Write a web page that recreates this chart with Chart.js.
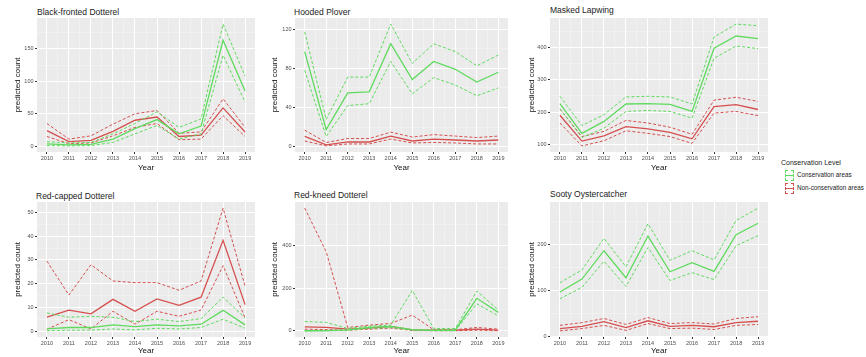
<!DOCTYPE html>
<html>
<head>
<meta charset="utf-8">
<script src="https://cdn.jsdelivr.net/npm/chart.js@4.4.1/dist/chart.umd.min.js"></script>
<style>
  body { margin: 0; background: #fff; width: 866px; height: 357px; position: relative; overflow: hidden;
         font-family: "Liberation Sans", Arial, sans-serif; }
  canvas { position: absolute; }
  .ttl { position: absolute; font-size: 8.5px; color: #222; white-space: nowrap; line-height: 1; }
  .leg { position: absolute; font-size: 7px; color: #222; white-space: nowrap; line-height: 1; }
  .lt { position: absolute; font-size: 6.3px; color: #222; white-space: nowrap; line-height: 1; }
  .key { position: absolute; width: 7px; height: 9px; border: 1px dashed; }
  .key i { position: absolute; left: 0; right: 0; top: 4px; height: 1px; }
</style>
</head>
<body>

<div class="ttl" style="left:37px;top:8px">Black-fronted Dotterel</div>
<div class="ttl" style="left:294px;top:8px">Hooded Plover</div>
<div class="ttl" style="left:550px;top:6px">Masked Lapwing</div>
<div class="ttl" style="left:36px;top:192px">Red-capped Dotterel</div>
<div class="ttl" style="left:294px;top:191px">Red-kneed Dotterel</div>
<div class="ttl" style="left:550px;top:190px">Sooty Oystercatcher</div>

<canvas id="c1" width="244" height="173" style="left:13px;top:0px"></canvas>
<canvas id="c2" width="240" height="173" style="left:270px;top:0px"></canvas>
<canvas id="c3" width="243" height="173" style="left:527px;top:0px"></canvas>
<canvas id="c4" width="244" height="181" style="left:13px;top:175px"></canvas>
<canvas id="c5" width="240" height="181" style="left:270px;top:175px"></canvas>
<canvas id="c6" width="243" height="181" style="left:527px;top:175px"></canvas>

<div class="leg" style="left:781px;top:159px">Conservation Level</div>
<div class="key" style="left:785px;top:170px;border-color:#5EDB5E"><i style="background:#5EDB5E"></i></div>
<div class="lt" style="left:797px;top:172px">Conservation areas</div>
<div class="key" style="left:785px;top:183px;border-color:#D64F4F"><i style="background:#D64F4F"></i></div>
<div class="lt" style="left:797px;top:185px">Non-conservation areas</div>

<script>
var years = [2010, 2011, 2012, 2013, 2014, 2015, 2016, 2017, 2018, 2019];

// Black-fronted Dotterel
var bfdCons   = [3.6, 2, 3, 11, 27, 41, 19, 31, 163, 85];
var bfdConsLo = [1, 0.5, 1, 6, 19, 32, 11, 19, 140, 68];
var bfdConsHi = [7, 5, 6, 19, 35, 53, 29, 42, 188, 108];
var bfdNon    = [24, 7, 9, 23, 40, 45, 15, 17, 59, 22];
var bfdNonLo  = [15, 4, 5, 16, 29, 35, 10, 11, 47, 15];
var bfdNonHi  = [35, 11, 16, 34, 50, 55, 20, 22, 73, 29];
var bfdTicks  = [0, 50, 100, 150];

// Hooded Plover
var hpCons   = [97, 17.5, 55, 56, 105, 68.5, 87, 79, 66, 76];
var hpConsLo = [78, 10.6, 42, 44, 87, 54, 70.5, 63, 52, 60];
var hpConsHi = [117, 28, 71, 71, 125, 85, 105, 97, 82.5, 93.5];
var hpNon    = [10.6, 2, 5, 5, 11, 6, 8, 7, 6, 7];
var hpNonLo  = [6, 1, 3, 3, 8, 4, 4.5, 4, 3, 3];
var hpNonHi  = [17, 4.5, 8.5, 8.5, 15, 10, 12.5, 11, 9.5, 11];
var hpTicks  = [0, 40, 80, 120];

// Masked Lapwing
var mlCons   = [226, 134, 171, 225, 226, 224, 202, 398, 436, 428];
var mlConsLo = [210, 121, 150, 202, 205, 202, 181, 367, 405, 397];
var mlConsHi = [249, 158, 192, 247, 249, 247, 225, 433, 473, 468];
var mlNon    = [190, 110, 126, 155, 148, 137, 117, 217, 223, 208];
var mlNonLo  = [166, 95, 111, 142, 134, 124, 103, 197, 202, 189];
var mlNonHi  = [210, 124, 140, 174, 166, 153, 131, 237, 246, 233];
var mlTicks  = [100, 200, 300, 400];

// Red-capped Dotterel
var rcdCons   = [1.1, 1.7, 1.7, 2.8, 2.1, 2.8, 2.4, 3.1, 8.9, 2.8];
var rcdConsLo = [0.3, 0.6, 0.6, 1.1, 0.7, 1.4, 1.1, 1.7, 5.2, 1.4];
var rcdConsHi = [7.8, 6, 6.4, 6, 4.2, 5.2, 4.2, 5.4, 14.4, 5.7];
var rcdNon    = [6.1, 9, 7.4, 13.5, 8.5, 13.7, 11, 14.4, 38.2, 11.3];
var rcdNonLo  = [1, 5, 1.1, 8.5, 3.1, 8.5, 6.4, 9, 27.6, 5.7];
var rcdNonHi  = [29.5, 15.3, 28, 21.2, 20.5, 20.5, 17.3, 21.2, 51.7, 19];
var rcdTicks  = [0, 10, 20, 30, 40, 50];

// Red-kneed Dotterel
var rkdCons   = [0.5, 1.5, 5, 16, 21, 6, 3, 3, 153, 87];
var rkdConsLo = [0, 0.5, 3, 11, 16, 3, 1, 1, 127, 71];
var rkdConsHi = [44, 40, 11, 22, 27, 190, 11, 11, 187, 98];
var rkdNon    = [19, 16, 8, 13, 21, 5, 3, 3, 8, 3];
var rkdNonLo  = [8, 6, 3, 8, 13, 2, 1, 1, 3, 1];
var rkdNonHi  = [577, 372, 16, 27, 35, 74, 5, 5, 16, 8];
var rkdTicks  = [0, 200, 400];

// Sooty Oystercatcher
var soCons   = [97, 125, 187, 128, 219, 141, 161, 142, 222, 247];
var soConsLo = [82, 107, 164, 109, 194, 122, 139, 124, 198, 220];
var soConsHi = [117, 145, 214, 152, 246, 166, 187, 167, 253, 280];
var soNon    = [17, 22, 32, 19, 34, 22, 24, 21, 30, 33];
var soNonLo  = [12, 17, 24, 13, 28, 17, 18, 15, 24, 26];
var soNonHi  = [24, 30, 39, 26, 41, 28, 30, 27, 39, 43];
var soTicks  = [0, 100, 200];

var green = '#5EDB5E';
var red = '#D64F4F';
var fontFam = '"Liberation Sans", Arial, sans-serif';

// grey ggplot panel
var panelBg = {
  id: 'panelBg',
  beforeDraw: function(chart) {
    var a = chart.chartArea, ctx = chart.ctx;
    ctx.save();
    ctx.fillStyle = '#EBEBEB';
    ctx.fillRect(a.left, a.top, a.right - a.left, a.bottom - a.top);
    ctx.restore();
  }
};

function pts(arr) {
  return arr.map(function(v, i) { return { x: years[i], y: v }; });
}

function line(arr, color, dashed) {
  return {
    data: pts(arr),
    borderColor: color,
    borderWidth: dashed ? 1 : 1.3,
    borderDash: dashed ? [3, 2] : [],
    pointRadius: 0,
    tension: 0,
    fill: false
  };
}

// ggplot style 5% padding of the data range
function range(all) {
  var lo = Math.min.apply(null, all), hi = Math.max.apply(null, all);
  var pad = (hi - lo) * 0.05;
  return [lo - pad, hi + pad];
}

function withMinor(major, lo, hi) {
  var step = major[1] - major[0];
  var out = [];
  major.forEach(function(v) { out.push({ value: v, m: true }); });
  for (var v = major[0] - step / 2; v <= major[major.length - 1] + step / 2; v += step) {
    if (v > lo && v < hi) out.push({ value: v, m: false });
  }
  out.sort(function(a, b) { return a.value - b.value; });
  return out;
}

var gridOpts = {
  color: function(c) { return c.tick && c.tick.m ? '#FFFFFF' : 'rgba(255,255,255,0.6)'; },
  lineWidth: function(c) { return c.tick && c.tick.m ? 1 : 0.5; },
  tickColor: function(c) { return c.tick && c.tick.m ? '#333333' : 'rgba(0,0,0,0)'; },
  tickLength: 2,
  drawTicks: true
};

function makeChart(id, series, majorTicks, padTop, yw, xh) {
  var all = [].concat.apply([], series);
  var r = range(all);
  var xTicks = withMinor(years, years[0] - 0.45, years[years.length - 1] + 0.45);
  var yTicks = withMinor(majorTicks, r[0], r[1]);
  new Chart(document.getElementById(id), {
    type: 'line',
    data: {
      datasets: [
        line(series[0], green, false),
        line(series[1], green, true),
        line(series[2], green, true),
        line(series[3], red, false),
        line(series[4], red, true),
        line(series[5], red, true)
      ]
    },
    options: {
      responsive: false,
      animation: false,
      devicePixelRatio: 1,
      layout: { padding: { top: padTop, right: 2, left: 0, bottom: 0 } },
      plugins: { legend: { display: false }, tooltip: { enabled: false } },
      scales: {
        x: {
          type: 'linear',
          min: years[0] - 0.45,
          max: years[years.length - 1] + 0.45,
          afterBuildTicks: function(s) { s.ticks = xTicks.map(function(t) { return { value: t.value, m: t.m }; }); },
          afterFit: function(s) { s.height = xh; },
          grid: gridOpts,
          border: { display: false },
          ticks: {
            autoSkip: false, maxRotation: 0, padding: 1,
            color: '#4D4D4D', font: { family: fontFam, size: 5.5 },
            callback: function(v, i, t) { return t[i].m ? String(v) : ''; }
          },
          title: { display: true, text: 'Year', color: '#111', padding: 0, font: { family: fontFam, size: 8 } }
        },
        y: {
          type: 'linear',
          bounds: 'data',
          min: r[0],
          max: r[1],
          afterBuildTicks: function(s) { s.ticks = yTicks.map(function(t) { return { value: t.value, m: t.m }; }); },
          afterFit: function(s) { s.width = yw; },
          grid: gridOpts,
          border: { display: false },
          ticks: {
            autoSkip: false, padding: 1.5,
            color: '#4D4D4D', font: { family: fontFam, size: 5.5 },
            callback: function(v, i, t) { return t[i].m ? String(v) : ''; }
          },
          title: { display: true, text: 'predicted count', color: '#111', padding: 0, font: { family: fontFam, size: 8 } }
        }
      }
    },
    plugins: [panelBg]
  });
}

makeChart('c1', [bfdCons, bfdConsLo, bfdConsHi, bfdNon, bfdNonLo, bfdNonHi], bfdTicks, 18, 24, 21);
makeChart('c2', [hpCons, hpConsLo, hpConsHi, hpNon, hpNonLo, hpNonHi], hpTicks, 18, 25, 21);
makeChart('c3', [mlCons, mlConsLo, mlConsHi, mlNon, mlNonLo, mlNonHi], mlTicks, 18, 23, 21);
makeChart('c4', [rcdCons, rcdConsLo, rcdConsHi, rcdNon, rcdNonLo, rcdNonHi], rcdTicks, 27, 24, 19);
makeChart('c5', [rkdCons, rkdConsLo, rkdConsHi, rkdNon, rkdNonLo, rkdNonHi], rkdTicks, 27, 25, 19);
makeChart('c6', [soCons, soConsLo, soConsHi, soNon, soNonLo, soNonHi], soTicks, 27, 23, 19);
</script>
</body>
</html>
